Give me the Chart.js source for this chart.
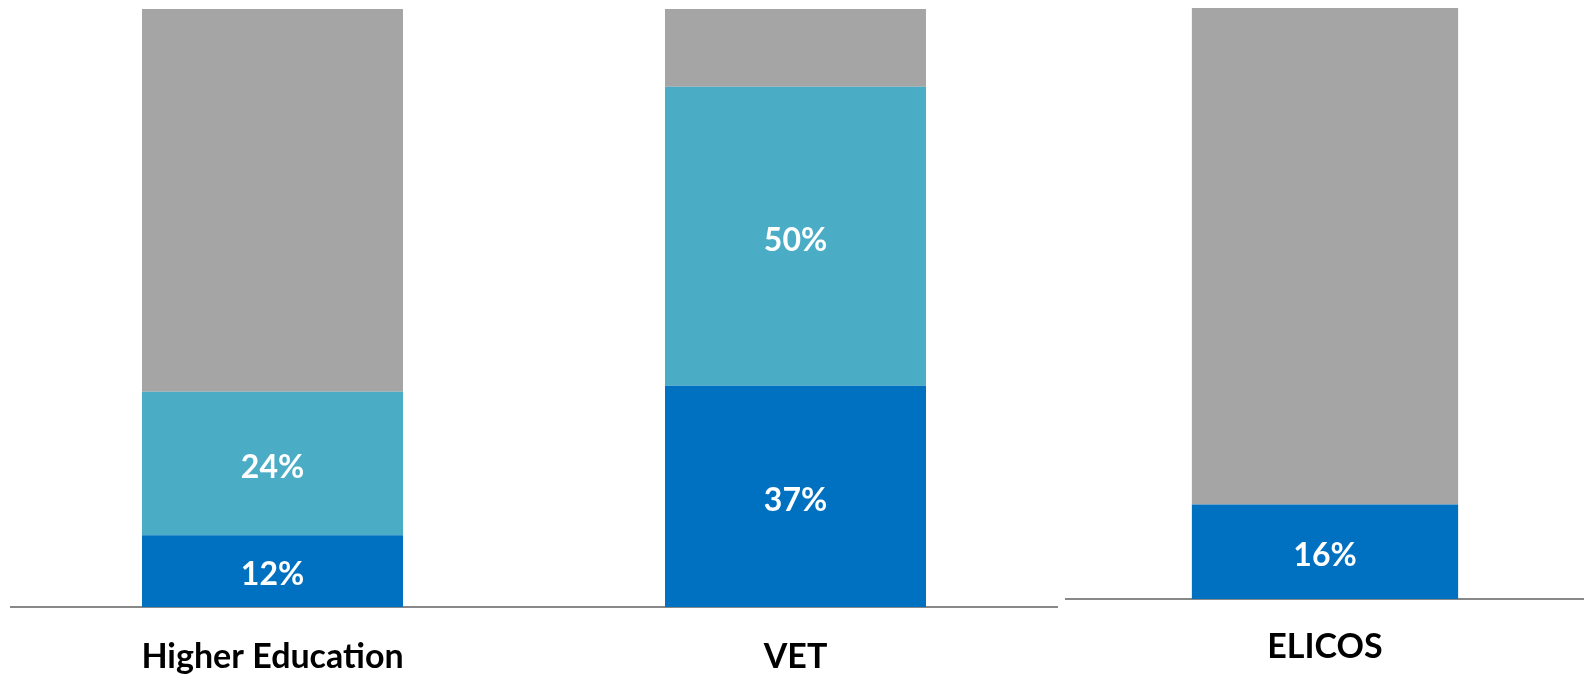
<!DOCTYPE html>
<html>
<head>
<meta charset="utf-8">
<script src="https://cdn.jsdelivr.net/npm/chart.js@4/dist/chart.umd.min.js"></script>
<style>
  html, body { margin: 0; padding: 0; background: #fff; overflow: hidden; }
  .box { position: absolute; top: 0; height: 675px; }
  #left { left: 0; width: 1058px; }
  #right { left: 1058px; width: 526px; }
</style>
</head>
<body>
<div class="box" id="left"><canvas id="sectorChart"></canvas></div>
<div class="box" id="right"><canvas id="elicosChart"></canvas></div>
<script>
// main sectors
const sectors = ['Higher Education', 'VET'];
const sectorBlue = [12, 37];
const sectorTeal = [24, 50];
const sectorGrey = [64, 13];

// english language courses
const elicos = ['ELICOS'];
const elicosBlue = [16];
const elicosTeal = [0];
const elicosGrey = [84];

const BLUE = '#0070C0';
const TEAL = '#4BACC6';
const GREY = '#A5A5A5';
const FONT = 'Lato, "Open Sans", sans-serif';

// draws the % figures inside the coloured segments
const barLabels = {
  id: 'barLabels',
  afterDatasetsDraw(chart) {
    const ctx = chart.ctx;
    ctx.save();
    ctx.fillStyle = '#ffffff';
    ctx.font = 'bold 32px ' + FONT;
    ctx.textAlign = 'center';
    ctx.textBaseline = 'middle';
    chart.data.datasets.forEach((ds, i) => {
      if (!ds.showLabels) return;
      chart.getDatasetMeta(i).data.forEach((bar, j) => {
        const v = ds.data[j];
        if (!v) return;
        ctx.fillText(v + '%', bar.x, (bar.y + bar.base) / 2 + 4);
      });
    });
    ctx.restore();
  }
};

function makeChart(id, labels, blue, teal, grey, opts) {
  const ctx = document.getElementById(id).getContext('2d');
  return new Chart(ctx, {
    type: 'bar',
    data: {
      labels: labels,
      datasets: [
        { data: blue, backgroundColor: BLUE, showLabels: true },
        { data: teal, backgroundColor: TEAL, showLabels: true },
        { data: grey, backgroundColor: GREY }
      ]
    },
    options: {
      responsive: true,
      maintainAspectRatio: false,
      animation: false,
      layout: { padding: opts.padding },
      datasets: { bar: { barPercentage: 1, categoryPercentage: opts.barShare } },
      plugins: { legend: { display: false }, tooltip: { enabled: false } },
      scales: {
        x: {
          stacked: true,
          grid: { display: false, drawTicks: false },
          border: { display: true, color: '#888888', width: 2 },
          ticks: {
            color: '#000000',
            padding: opts.tickPad,
            font: { family: FONT, size: 34, weight: 'bold' }
          },
          afterFit(scale) { scale.height = opts.axisHeight; }
        },
        y: { stacked: true, display: false, min: 0, max: 100 }
      }
    },
    plugins: [barLabels]
  });
}

makeChart('sectorChart', sectors, sectorBlue, sectorTeal, sectorGrey, {
  padding: { left: 11, right: 1, top: 9, bottom: 0 },
  barShare: 0.499,
  tickPad: 30,
  axisHeight: 68
});

makeChart('elicosChart', elicos, elicosBlue, elicosTeal, elicosGrey, {
  padding: { left: 8, right: 0, top: 8, bottom: 0 },
  barShare: 0.514,
  tickPad: 28,
  axisHeight: 76
});
</script>
</body>
</html>
